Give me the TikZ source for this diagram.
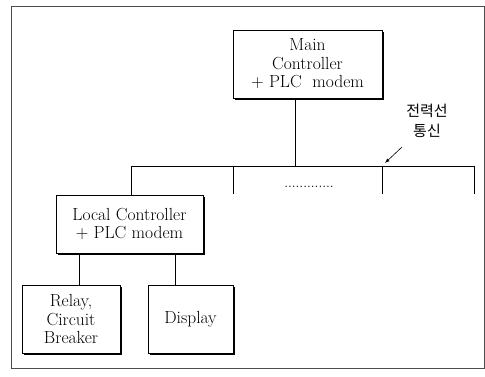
\documentclass[tikz,border=0pt]{standalone}
\usepackage{fontspec}
\newfontfamily\kfont{Noto Sans CJK KR}
\usetikzlibrary{shadows}
\begin{document}
\begin{tikzpicture}[x=1pt,y=1pt]
    \tikzstyle{box}=[draw=black, fill=white, line width=0.6pt, align=center, inner sep=0pt,
        font=\fontsize{17.5}{18.5}\selectfont,
        drop shadow={shadow xshift=1.8pt, shadow yshift=-1.8pt, fill=black, opacity=1}]
    \useasboundingbox (0,0) rectangle (485,-377);
    \draw [black!70, line width=0.5pt] (11,-6) rectangle (484,-368);
    \node [box, minimum width=149, minimum height=68] (main) at (307.5,-64) {Main\\Controller\\+ PLC\ \ modem};
    \node [box, minimum width=147, minimum height=58] (local) at (129.5,-224) {Local Controller\\+ PLC modem};
    \node [box, minimum width=98, minimum height=68] (relay) at (71,-319) {Relay,\\Circuit\\Breaker};
    \node [box, minimum width=85, minimum height=68] (disp) at (190.5,-319) {Display};
    \coordinate (tap) at (295,-166);
    \coordinate (busL) at (131,-166);
    \coordinate (busR) at (474,-166);
    \coordinate (drop1) at (233,-194);
    \coordinate (drop2) at (382,-194);
    \coordinate (drop3) at (474,-194);
    \draw [black, line width=0.5pt] (main.south -| tap) -- (tap);
    \draw [black, line width=0.5pt] (busL) -- (busR);
    \draw [black, line width=0.5pt] (busL) -- (busL |- local.north);
    \draw [black, line width=0.5pt] (drop1 |- busL) -- (drop1);
    \draw [black, line width=0.5pt] (drop2 |- busL) -- (drop2);
    \draw [black, line width=0.5pt] (busR) -- (drop3);
    \draw [black, line width=0.5pt] (local.south -| relay.north west) ++(58,0) coordinate (lr) -- (lr |- relay.north);
    \draw [black, line width=0.5pt] (local.south -| disp.north east) ++(-58,0) coordinate (ld) -- (ld |- disp.north);
    \node [inner sep=0pt, font=\fontsize{14}{14}\selectfont] (dots) at (309,-187) {.............};
    \node [align=center, inner sep=0pt, font=\kfont\fontsize{15}{20}\selectfont] (plc) at (427,-121) {전력선\\통신};
    \coordinate (arrS) at (402,-147);
    \coordinate (arrE) at (385,-163);
    \draw [black, line width=0.6pt, -latex] (arrS) -- (arrE);
\end{tikzpicture}
\end{document}
